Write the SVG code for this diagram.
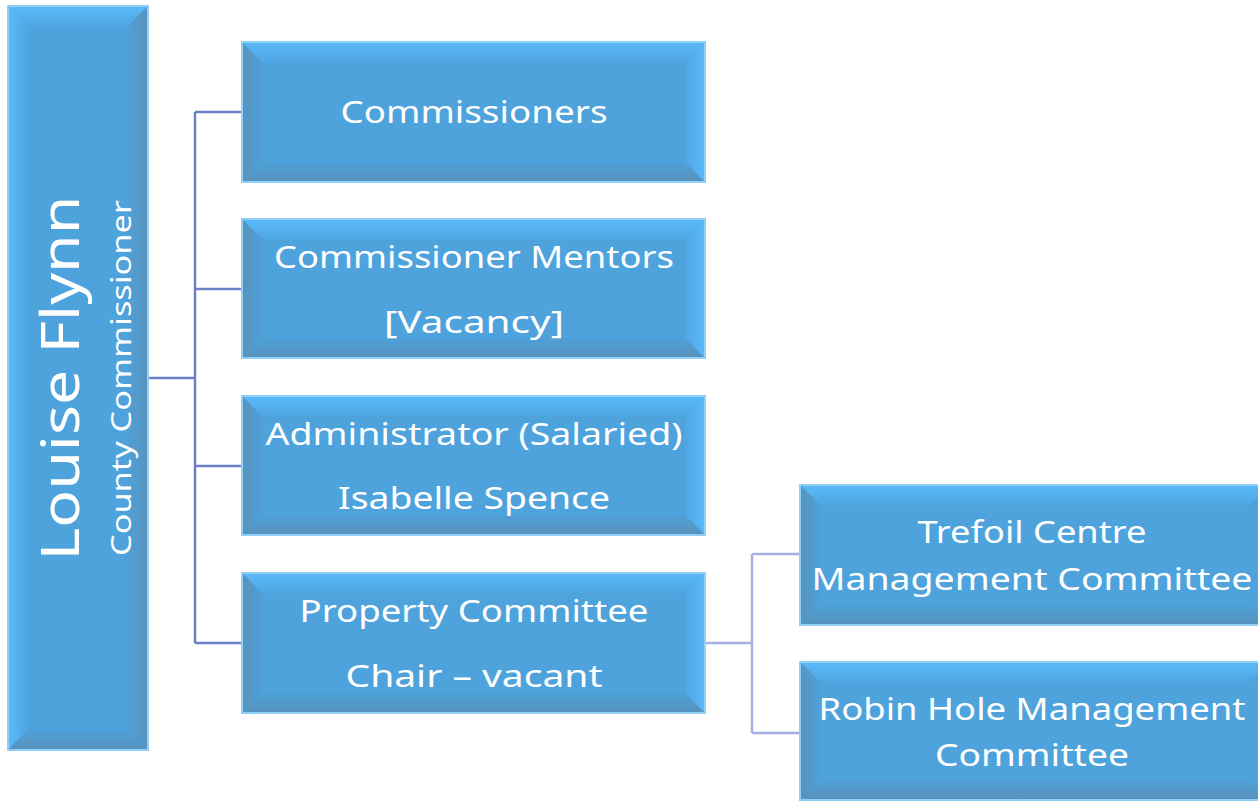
<svg xmlns="http://www.w3.org/2000/svg" width="1258" height="801" viewBox="0 0 1258 801">
<defs>
<linearGradient id="gt" x1="0" y1="0" x2="0" y2="1"><stop offset="0" stop-color="#5bbafb"/><stop offset="1" stop-color="#4fa6e2"/></linearGradient>
<linearGradient id="gr" x1="1" y1="0" x2="0" y2="0"><stop offset="0" stop-color="#5bbafb"/><stop offset="1" stop-color="#4fa6e2"/></linearGradient>
<linearGradient id="gl" x1="0" y1="0" x2="1" y2="0"><stop offset="0" stop-color="#5892bb"/><stop offset="1" stop-color="#4ea0d8"/></linearGradient>
<linearGradient id="gb" x1="0" y1="1" x2="0" y2="0"><stop offset="0" stop-color="#5892bb"/><stop offset="1" stop-color="#4ea0d8"/></linearGradient>
<linearGradient id="gll" x1="0" y1="0" x2="1" y2="0"><stop offset="0" stop-color="#5bbafb"/><stop offset="1" stop-color="#4fa6e2"/></linearGradient>
<linearGradient id="grd" x1="1" y1="0" x2="0" y2="0"><stop offset="0" stop-color="#5892bb"/><stop offset="1" stop-color="#4ea0d8"/></linearGradient>
</defs>
<style>
.face{fill:#4ea3dc}
.top{fill:url(#gt)}
.rgt{fill:url(#gr)}
.lft{fill:url(#gl)}
.bot{fill:url(#gb)}
.lftl{fill:url(#gll)}
.rgtd{fill:url(#grd)}
.edge{fill:none;stroke:#8ed0f6;stroke-width:2}
.t{font-family:"Noto Sans","Open Sans",sans-serif;fill:#ffffff;text-anchor:middle;font-size:31px}
.c1{fill:none;stroke:#6b80c8;stroke-width:2.5}
.c2{fill:none;stroke:#a7b0e2;stroke-width:2.5}
</style>
<rect width="1258" height="801" fill="#ffffff"/>
<g id="connectors">
<path class="c1" d="M148 378H195M195 112V643M195 112H242M195 289H242M195 466H242M195 643H242"/>
<path class="c2" d="M705 643H752M752 554V733M752 554H800M752 733H800"/>
</g>
<g id="louise">
<rect class="face" x="8" y="6" width="140" height="744"/>
<polygon class="top" points="8,6 148,6 128,26 28,26"/>
<polygon class="lftl" points="8,6 28,26 28,730 8,750"/>
<polygon class="rgtd" points="148,6 148,750 128,730 128,26"/>
<polygon class="bot" points="8,750 28,730 128,730 148,750"/>
<rect class="edge" x="8" y="6" width="140" height="744"/>
<text class="t" transform="translate(78,378) rotate(-90)" style="font-size:52px" y="1" textLength="365" lengthAdjust="spacingAndGlyphs">Louise Flynn</text>
<text class="t" transform="translate(78,378) rotate(-90)" style="font-size:28px" y="53" textLength="356" lengthAdjust="spacingAndGlyphs">County Commissioner</text>
</g>
<g id="commissioners">
<rect class="face" x="242" y="42" width="463" height="140"/>
<polygon class="top" points="242,42 705,42 685,62 262,62"/>
<polygon class="rgt" points="705,42 705,182 685,162 685,62"/>
<polygon class="lft" points="242,42 262,62 262,162 242,182"/>
<polygon class="bot" points="242,182 262,162 685,162 705,182"/>
<rect class="edge" x="242" y="42" width="463" height="140"/>
<text class="t" x="474" y="123" textLength="267" lengthAdjust="spacingAndGlyphs">Commissioners</text>
</g>
<g id="mentors">
<rect class="face" x="242" y="219" width="463" height="139"/>
<polygon class="top" points="242,219 705,219 685,239 262,239"/>
<polygon class="rgt" points="705,219 705,358 685,338 685,239"/>
<polygon class="lft" points="242,219 262,239 262,338 242,358"/>
<polygon class="bot" points="242,358 262,338 685,338 705,358"/>
<rect class="edge" x="242" y="219" width="463" height="139"/>
<text class="t" x="474" y="268" textLength="400" lengthAdjust="spacingAndGlyphs">Commissioner Mentors</text>
<text class="t" x="474" y="333" textLength="180" lengthAdjust="spacingAndGlyphs">[Vacancy]</text>
</g>
<g id="administrator">
<rect class="face" x="242" y="396" width="463" height="139"/>
<polygon class="top" points="242,396 705,396 685,416 262,416"/>
<polygon class="rgt" points="705,396 705,535 685,515 685,416"/>
<polygon class="lft" points="242,396 262,416 262,515 242,535"/>
<polygon class="bot" points="242,535 262,515 685,515 705,535"/>
<rect class="edge" x="242" y="396" width="463" height="139"/>
<text class="t" x="474" y="445" textLength="417" lengthAdjust="spacingAndGlyphs">Administrator (Salaried)</text>
<text class="t" x="474" y="509" textLength="272" lengthAdjust="spacingAndGlyphs">Isabelle Spence</text>
</g>
<g id="property">
<rect class="face" x="242" y="573" width="463" height="140"/>
<polygon class="top" points="242,573 705,573 685,593 262,593"/>
<polygon class="rgt" points="705,573 705,713 685,693 685,593"/>
<polygon class="lft" points="242,573 262,593 262,693 242,713"/>
<polygon class="bot" points="242,713 262,693 685,693 705,713"/>
<rect class="edge" x="242" y="573" width="463" height="140"/>
<text class="t" x="474" y="622" textLength="349" lengthAdjust="spacingAndGlyphs">Property Committee</text>
<text class="t" x="474" y="687" textLength="257" lengthAdjust="spacingAndGlyphs">Chair – vacant</text>
</g>
<g id="trefoil">
<rect class="face" x="800" y="485" width="470" height="140"/>
<polygon class="top" points="800,485 1270,485 1250,505 820,505"/>
<polygon class="lft" points="800,485 820,505 820,605 800,625"/>
<polygon class="bot" points="800,625 820,605 1250,605 1270,625"/>
<rect class="edge" x="800" y="485" width="470" height="140"/>
<text class="t" x="1032" y="543" textLength="229" lengthAdjust="spacingAndGlyphs">Trefoil Centre</text>
<text class="t" x="1032" y="590" textLength="441" lengthAdjust="spacingAndGlyphs">Management Committee</text>
</g>
<g id="robin">
<rect class="face" x="800" y="662" width="470" height="138"/>
<polygon class="top" points="800,662 1270,662 1250,682 820,682"/>
<polygon class="lft" points="800,662 820,682 820,780 800,800"/>
<polygon class="bot" points="800,800 820,780 1250,780 1270,800"/>
<rect class="edge" x="800" y="662" width="470" height="138"/>
<text class="t" x="1032" y="720" textLength="427" lengthAdjust="spacingAndGlyphs">Robin Hole Management</text>
<text class="t" x="1032" y="766" textLength="194" lengthAdjust="spacingAndGlyphs">Committee</text>
</g>
</svg>
